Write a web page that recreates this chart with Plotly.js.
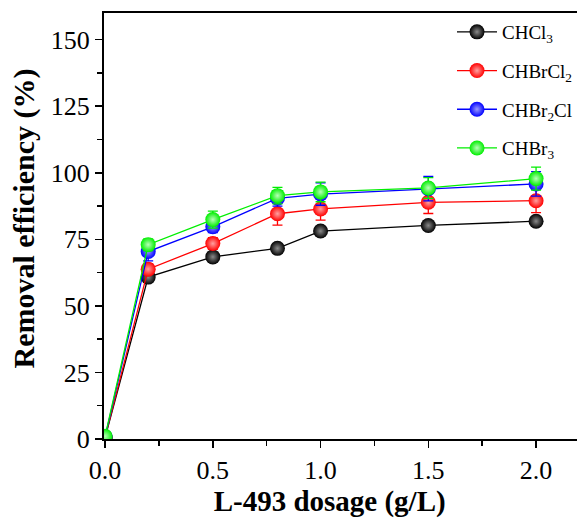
<!DOCTYPE html>
<html><head><meta charset="utf-8">
<script src="https://cdn.plot.ly/plotly-3.0.1.min.js"></script>
<style>html,body{margin:0;padding:0;background:#fff}#chart{width:578px;height:518px}</style>
</head><body><div id="chart"></div>
<script>
var dosage = [0, 0.2, 0.5, 0.8, 1.0, 1.5, 2.0];
var seriesNames = ['CHCl<sub>3</sub>', 'CHBrCl<sub>2</sub>', 'CHBr<sub>2</sub>Cl', 'CHBr<sub>3</sub>'];
var chcl3   = [0.5, 60.8, 68.4, 71.6, 78.1, 80.2, 81.8];
var chbrcl2 = [0.6, 63.8, 73.4, 84.6, 86.4, 88.9, 89.5];
var chbr2cl = [0.8, 70.4, 79.7, 90.4, 92.0, 94.0, 95.8];
var chbr3   = [1.0, 73.0, 82.4, 91.4, 92.8, 94.3, 97.8];
var err_chcl3   = [0.3, 1.0, 1.0, 1.0, 1.2, 1.2, 1.2];
var err_chbrcl2 = [0.3, 2.0, 2.2, 4.3, 4.2, 4.2, 4.5];
var err_chbr2cl = [0.3, 3.5, 2.2, 2.9, 4.2, 4.6, 4.6];
var err_chbr3   = [0.3, 2.2, 3.2, 3.1, 3.7, 3.9, 4.3];
var xTickVals = [0, 0.5, 1.0, 1.5, 2.0];
var xTickText = ['0.0', '0.5', '1.0', '1.5', '2.0'];
var yTickVals = [0, 25, 50, 75, 100, 125, 150];

var lineColors = ['#000000', '#ff0000', '#0000ff', '#00ee00'];
var glowColors = ['#8a8a8a', '#ffa0a0', '#9a9aff', '#b8ffb8'];
var ys = [chcl3, chbrcl2, chbr2cl, chbr3];
var errs = [err_chcl3, err_chbrcl2, err_chbr2cl, err_chbr3];

var traces = ys.map(function(y, i){
  return {
    x: dosage, y: y, name: seriesNames[i], type: 'scatter', mode: 'lines+markers',
    legendgroup: 'g'+i,
    line: {color: lineColors[i], width: 1.3},
    marker: {symbol: 'circle', size: 15, color: lineColors[i],
             gradient: {type: 'radial', color: glowColors[i]},
             line: {width: 0}},
    error_y: {type: 'data', array: errs[i], visible: true, color: lineColors[i], thickness: 1.3, width: 5}
  };
});

function serif(size, bold){
  var f = {family: 'Liberation Serif', size: size, color: '#000'};
  if (bold) f.weight = 'bold';
  return f;
}

var layout = {
  width: 578, height: 518,
  margin: {l: 104, r: 0, t: 13, b: 79},
  paper_bgcolor: '#fff', plot_bgcolor: '#fff',
  font: serif(19),
  showlegend: true,
  legend: {x: 0.735, y: 1.0, xanchor: 'left', yanchor: 'top', bgcolor: 'rgba(0,0,0,0)',
           font: serif(19),
           traceorder: 'grouped', tracegroupgap: 11, itemwidth: 40},
  xaxis: {
    range: [-0.005, 2.19], tickmode: 'array', tickvals: xTickVals, ticktext: xTickText,
    ticks: 'outside', ticklen: 7, tickwidth: 1.5, tickcolor: '#000',
    minor: {tickvals: [0.25, 0.75, 1.25, 1.75], ticks: 'outside', ticklen: 5, tickwidth: 1.5, tickcolor: '#000'},
    showline: true, linewidth: 2, linecolor: '#000', mirror: true, showgrid: false, zeroline: false,
    tickfont: serif(26),
    title: {text: '<b>L-493 dosage (g/L)</b>&nbsp;&nbsp;&nbsp;', font: serif(29, true), standoff: 4}
  },
  yaxis: {
    range: [0, 160], tickmode: 'array', tickvals: yTickVals,
    ticks: 'outside', ticklen: 7, tickwidth: 1.5, tickcolor: '#000',
    minor: {tickvals: [12.5, 37.5, 62.5, 87.5, 112.5, 137.5], ticks: 'outside', ticklen: 5, tickwidth: 1.5, tickcolor: '#000'},
    showline: true, linewidth: 2, linecolor: '#000', mirror: false, showgrid: false, zeroline: false,
    tickfont: serif(26),
    title: {text: '&nbsp;&nbsp;<b>Removal efficiency (%)</b>', font: serif(30, true), standoff: 7}
  }
};

Plotly.newPlot('chart', traces, layout, {displayModeBar: false, staticPlot: true});
</script>
</body></html>
